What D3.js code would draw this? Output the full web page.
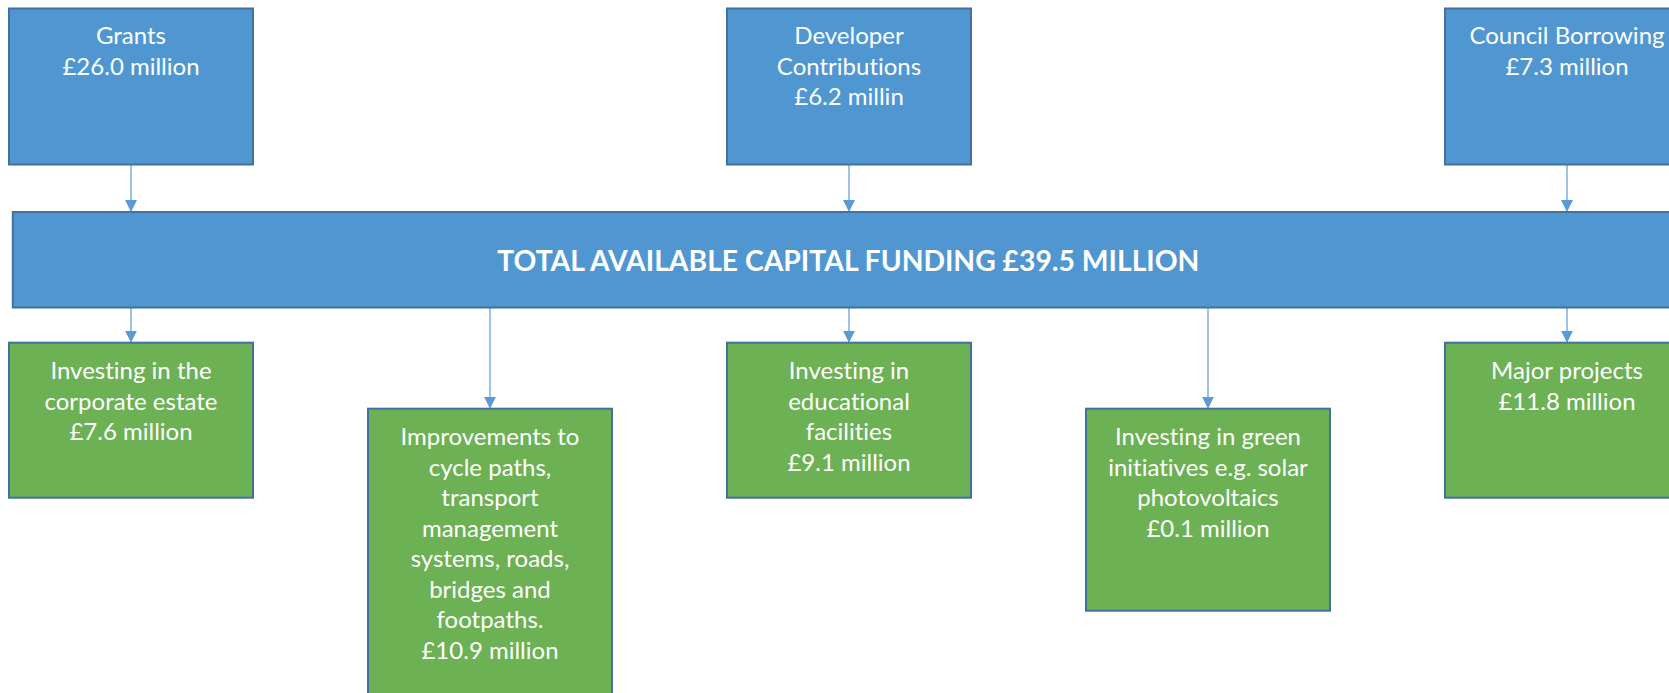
<!DOCTYPE html>
<html>
<head>
<meta charset="utf-8">
<script src="https://cdn.jsdelivr.net/npm/d3@7"></script>
<style>
  html, body { margin: 0; padding: 0; background: #fff; overflow: hidden; }
  text { font-family: Lato, "Open Sans", sans-serif; fill: #fff; font-variant-ligatures: none; }
</style>
</head>
<body>
<div id="chart"></div>
<script>
// funding sources (top row)
var sourceNames = [["Grants"], ["Developer", "Contributions"], ["Council Borrowing"]];
var sourceValues = [26.0, 6.2, 7.3];
var sourceUnits = ["million", "millin", "million"];

// total
var totalLabel = "TOTAL AVAILABLE CAPITAL FUNDING";
var totalValue = 39.5;

// spending (bottom row)
var spendNames = [
  ["Investing in the", "corporate estate"],
  ["Improvements to", "cycle paths,", "transport", "management", "systems, roads,", "bridges and", "footpaths."],
  ["Investing in", "educational", "facilities"],
  ["Investing in green", "initiatives e.g. solar", "photovoltaics"],
  ["Major projects"]
];
var spendValues = [7.6, 10.9, 9.1, 0.1, 11.8];

var W = 1669, H = 693;
var blue = "#5097d2", green = "#6db155", edge = "#41719c", link = "#5b9bd5";
var boxW = 244, lineH = 30.5, fs = 24;

var svg = d3.select("#chart").append("svg")
	.attr("width", W)
	.attr("height", H);

var defs = svg.append("defs");
defs.append("marker")
	.attr("id", "arr")
	.attr("viewBox", "0 0 10 10")
	.attr("refX", 10).attr("refY", 5)
	.attr("markerWidth", 12).attr("markerHeight", 12)
	.attr("markerUnits", "userSpaceOnUse")
	.attr("orient", "auto")
	.append("path")
		.attr("d", "M0,0L10,5L0,10Z")
		.attr("fill", link);

// five column slots, sources sit on slots 0,2,4
var x = d3.scalePoint().domain(d3.range(5)).range([131, 1567]);

var topY = 8.5, topH = 156;
var totY = 212, totH = 95.5;
var rowY = [342.7, 408.7];
var spendH = [155, 330, 155, 202, 155];

function fmt(v, unit) { return "£" + v.toFixed(1) + " " + unit; }

function drawLines(g, lines, cx, y0) {
	g.selectAll(null)
		.data(lines)
		.enter().append("text")
			.attr("x", cx)
			.attr("y", function (d, i) { return y0 + i * lineH; })
			.attr("text-anchor", "middle")
			.attr("dominant-baseline", "central")
			.attr("font-size", fs)
			.text(function (d) { return d; });
}

// links first so the boxes sit on top
sourceValues.forEach(function (v, i) {
	var cx = x(i * 2);
	svg.append("line")
		.attr("x1", cx).attr("y1", topY + topH)
		.attr("x2", cx).attr("y2", totY)
		.attr("stroke", link).attr("stroke-width", 1.2)
		.attr("marker-end", "url(#arr)");
});
spendValues.forEach(function (v, i) {
	var cx = x(i);
	svg.append("line")
		.attr("x1", cx).attr("y1", totY + totH)
		.attr("x2", cx).attr("y2", rowY[i % 2])
		.attr("stroke", link).attr("stroke-width", 1.2)
		.attr("marker-end", "url(#arr)");
});

// source boxes
sourceValues.forEach(function (v, i) {
	var cx = x(i * 2);
	var g = svg.append("g");
	g.append("rect")
		.attr("x", cx - boxW / 2).attr("y", topY)
		.attr("width", boxW).attr("height", topH)
		.attr("fill", blue).attr("stroke", edge).attr("stroke-width", 2);
	drawLines(g, sourceNames[i].concat([fmt(v, sourceUnits[i])]), cx, topY + 26);
});

// total bar
svg.append("rect")
	.attr("x", 12.8).attr("y", totY)
	.attr("width", 1671).attr("height", totH)
	.attr("fill", blue).attr("stroke", edge).attr("stroke-width", 2);
svg.append("text")
	.attr("x", 12.8 + 1671 / 2)
	.attr("y", totY + totH / 2)
	.attr("text-anchor", "middle")
	.attr("dominant-baseline", "central")
	.attr("font-size", 28.3)
	.attr("font-weight", "bold")
	.text(totalLabel + " £" + totalValue.toFixed(1) + " MILLION");

// spending boxes
spendValues.forEach(function (v, i) {
	var cx = x(i), y0 = rowY[i % 2];
	var g = svg.append("g");
	g.append("rect")
		.attr("x", cx - boxW / 2).attr("y", y0)
		.attr("width", boxW).attr("height", spendH[i])
		.attr("fill", green).attr("stroke", edge).attr("stroke-width", 2);
	drawLines(g, spendNames[i].concat([fmt(v, "million")]), cx, y0 + 27);
});
</script>
</body>
</html>
